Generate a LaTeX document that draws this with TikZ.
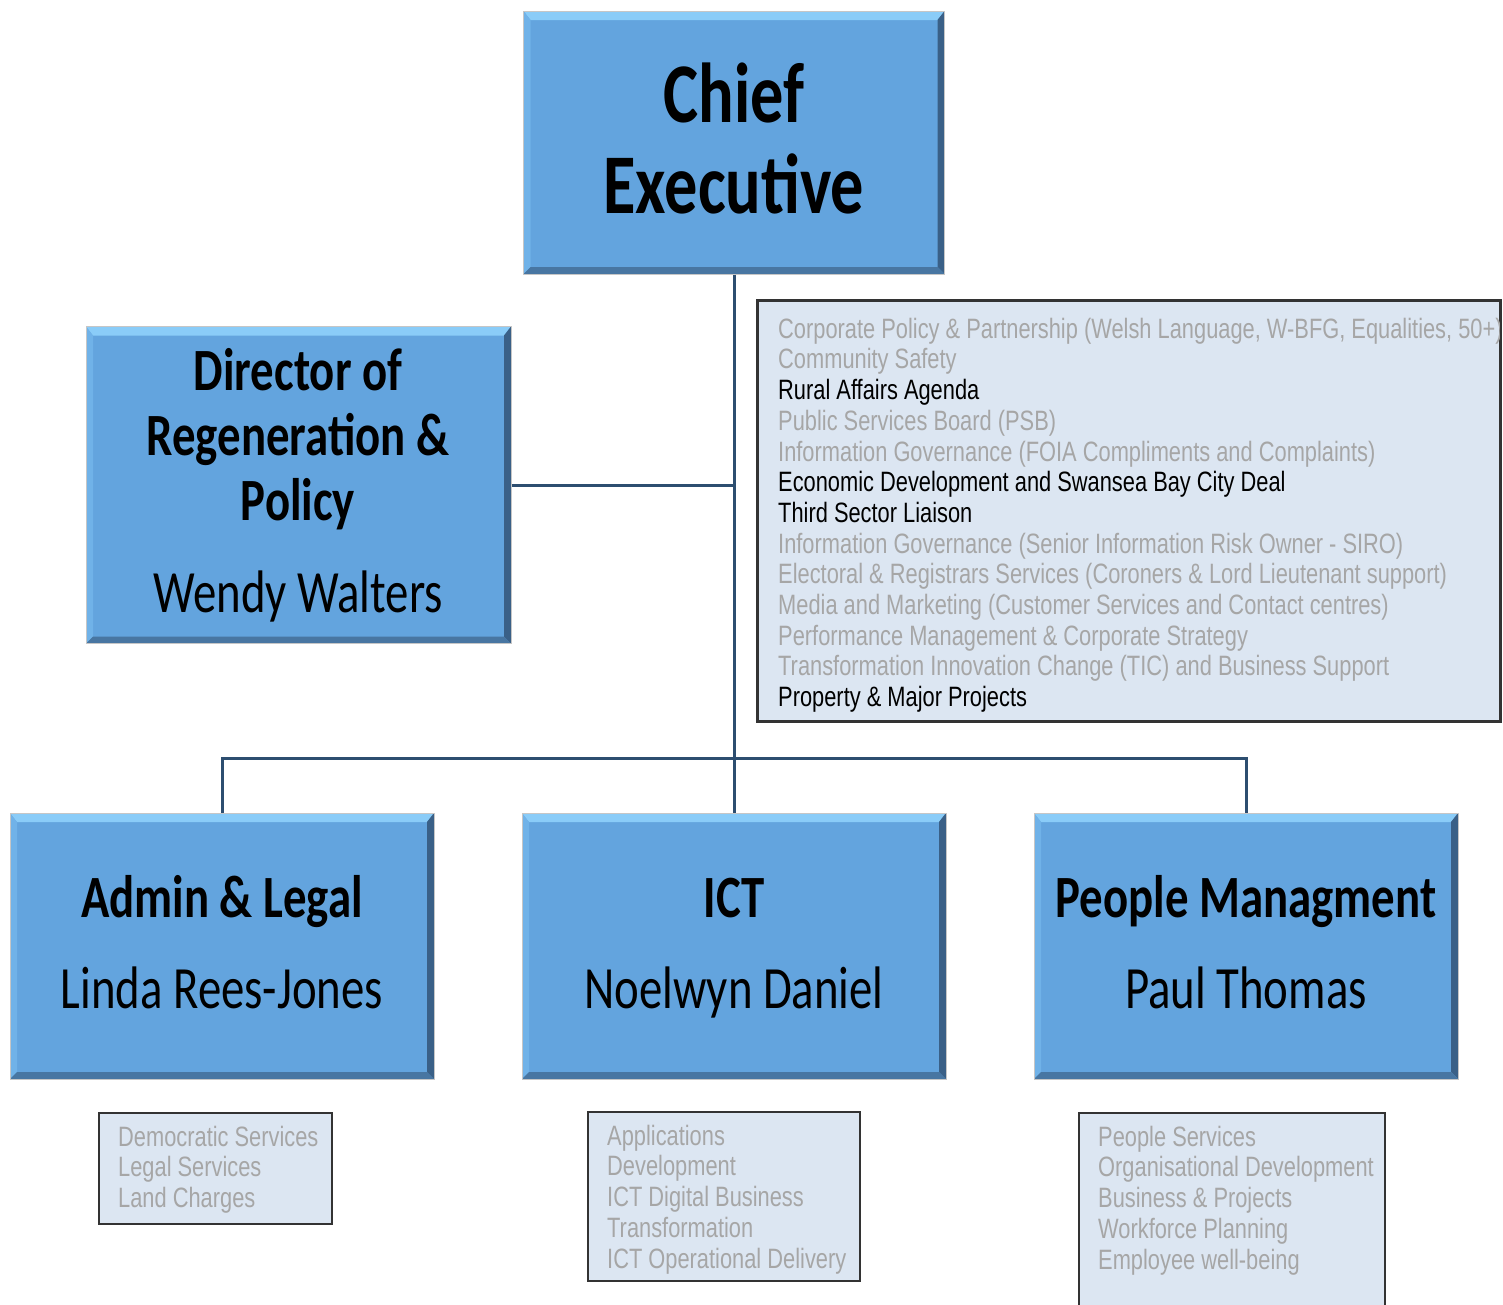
\documentclass[tikz,border=0pt]{standalone}
\usepackage{fontspec}
\setmainfont{Liberation Sans}
\newfontfamily\listfont[FakeStretch=0.78]{Liberation Sans}
\newfontfamily\titlefont[FakeStretch=0.78]{Carlito}
\definecolor{boxblue}{RGB}{99,164,222}
\definecolor{bevtop}{RGB}{138,204,248}
\definecolor{bevleft}{RGB}{112,178,232}
\definecolor{bevright}{RGB}{58,96,135}
\definecolor{bevbot}{RGB}{72,118,162}
\definecolor{linkcol}{RGB}{45,78,112}
\definecolor{listfill}{RGB}{220,230,242}
\definecolor{listgray}{RGB}{166,166,166}
\newcommand{\ppb}{path picture bounding box}
\tikzset{
  bluebox/.style={rectangle, inner sep=0pt, fill=boxblue, draw=gray!45, line width=1pt,
    path picture={
      \fill[bevtop] (\ppb.north west) -- (\ppb.north east) -- ([xshift=-7pt,yshift=-9pt]\ppb.north east) -- ([xshift=7pt,yshift=-9pt]\ppb.north west) -- cycle;
      \fill[bevleft] (\ppb.north west) -- ([xshift=7pt,yshift=-9pt]\ppb.north west) -- ([xshift=7pt,yshift=7pt]\ppb.south west) -- (\ppb.south west) -- cycle;
      \fill[bevright] (\ppb.north east) -- ([xshift=-7pt,yshift=-9pt]\ppb.north east) -- ([xshift=-7pt,yshift=7pt]\ppb.south east) -- (\ppb.south east) -- cycle;
      \fill[bevbot] (\ppb.south west) -- ([xshift=7pt,yshift=7pt]\ppb.south west) -- ([xshift=-7pt,yshift=7pt]\ppb.south east) -- (\ppb.south east) -- cycle;
    }},
  titlebold/.style={anchor=base, inner sep=0pt, font=\titlefont\bfseries\fontsize{60}{65}\selectfont},
  titlereg/.style={anchor=base, inner sep=0pt, font=\titlefont\fontsize{60}{65}\selectfont},
  listbox/.style={rectangle, inner sep=0pt, fill=listfill, draw=black!80, line width=2pt},
  listtext/.style={anchor=north west, inner sep=0pt, align=left, text=listgray, font=\listfont\fontsize{28}{30.7}\selectfont},
  link/.style={draw=linkcol, line width=3pt}
}
\begin{document}
\begin{tikzpicture}[x=1pt,y=-1pt]
\useasboundingbox (0,0) rectangle (1503,1304);
% boxes
\node[bluebox, minimum width=421pt, minimum height=263pt] (ce) at (734,142.5) {};
\node[bluebox, minimum width=425pt, minimum height=317pt] (dir) at (298.5,485) {};
\node[bluebox, minimum width=424pt, minimum height=266pt] (adm) at (222,946) {};
\node[bluebox, minimum width=424pt, minimum height=266pt] (ict) at (734,946) {};
\node[bluebox, minimum width=424pt, minimum height=266pt] (ppl) at (1246,946) {};
% connectors
\draw[link] (ce.south) -- (ict.north);
\draw[link] (dir.east) -- (dir.east -| ce.south);
\coordinate (bus) at (734,758);
\draw[link] (adm.north) |- (bus) -| (ppl.north);
% titles
\node[anchor=base, inner sep=0pt, font=\titlefont\bfseries\fontsize{85}{91}\selectfont] (ce1) at (734,122) {Chief};
\node[anchor=base, inner sep=0pt, font=\titlefont\bfseries\fontsize{85}{91}\selectfont] (ce2) at (734,213) {Executive};
\node[titlebold] (dir1) at (298,390) {Director of};
\node[titlebold] (dir2) at (298,455) {Regeneration \&};
\node[titlebold] (dir3) at (298,520) {Policy};
\node[titlereg] (dir4) at (298,612) {Wendy Walters};
\node[titlebold] (adm1) at (222,917) {Admin \& Legal};
\node[titlereg] (adm2) at (222,1008) {Linda Rees-Jones};
\node[titlebold] (ict1) at (734,917) {ICT};
\node[titlereg] (ict2) at (734,1008) {Noelwyn Daniel};
\node[titlebold] (ppl1) at (1246,917) {People Managment};
\node[titlereg] (ppl2) at (1246,1008) {Paul Thomas};
% lists
\node[listbox, minimum width=742pt, minimum height=420pt] (pol) at (1129,511) {};
\begin{scope}
\clip (758,301) rectangle (1499,721);
\node[listtext] (polt) at (778,316) {\rule{0pt}{22pt}Corporate Policy \& Partnership (Welsh Language, W-BFG, Equalities, 50+)\\
Community Safety\\
\textcolor{black}{Rural Affairs Agenda}\\
Public Services Board (PSB)\\
Information Governance (FOIA Compliments and Complaints)\\
\textcolor{black}{Economic Development and Swansea Bay City Deal}\\
\textcolor{black}{Third Sector Liaison}\\
Information Governance (Senior Information Risk Owner - SIRO)\\
Electoral \& Registrars Services (Coroners \& Lord Lieutenant support)\\
Media and Marketing (Customer Services and Contact centres)\\
Performance Management \& Corporate Strategy\\
Transformation Innovation Change (TIC) and Business Support\\
\textcolor{black}{Property \& Major Projects}};
\end{scope}
\draw[draw=black!80, line width=2pt] (pol.north west) rectangle (pol.south east);
\node[listbox, minimum width=233pt, minimum height=111pt] (admL) at (215.5,1168.5) {};
\node[listtext] (admLt) at (118,1124) {\rule{0pt}{22pt}Democratic Services\\Legal Services\\Land Charges};
\node[listbox, minimum width=272pt, minimum height=169pt] (ictL) at (724,1196.5) {};
\node[listtext] (ictLt) at (607,1123) {\rule{0pt}{22pt}Applications\\Development\\ICT Digital Business\\Transformation\\ICT Operational Delivery};
\node[listbox, minimum width=306pt, minimum height=230pt] (pplL) at (1232,1228) {};
\node[listtext] (pplLt) at (1098,1124) {\rule{0pt}{22pt}People Services\\Organisational Development\\Business \& Projects\\Workforce Planning\\Employee well-being};
\end{tikzpicture}
\end{document}
